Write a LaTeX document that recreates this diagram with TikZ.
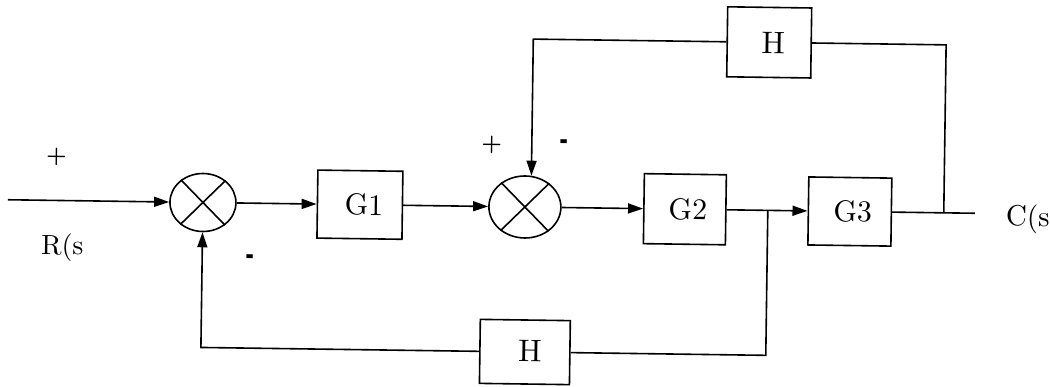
\documentclass[tikz,border=0pt]{standalone}
\usetikzlibrary{arrows.meta,shapes.geometric}
\begin{document}
\begin{tikzpicture}[x=1pt,y=-1pt,
  line width=1.6pt,
  blockbox/.style={draw,rectangle,inner sep=0pt},
  boxlabel/.style={inner sep=0pt,font=\fontsize{10}{12}\selectfont,scale=3.0},
  sumnode/.style={draw,ellipse,inner sep=0pt},
  sig/.style={inner sep=0pt,font=\fontsize{10}{12}\selectfont,scale=2.9},
  plusmark/.style={inner sep=0pt,font=\fontsize{10}{12}\bfseries\selectfont,scale=2.3},
  minusmark/.style={inner sep=0pt,font=\fontsize{10}{12}\bfseries\selectfont,xscale=2.1,yscale=4},
  flow/.style={-{Triangle[length=15pt,width=10pt]}}]
\fill[white] (0,0) rectangle (1050,387);
\useasboundingbox (0,0) rectangle (1050,387);
\begin{scope}[rotate around={-0.8:(525,200)}, transform shape]
  % summing junctions
  \node[sumnode, minimum width=66pt, minimum height=58pt] (s1) at (203,207) {};
  \node[sumnode, minimum width=72pt, minimum height=62pt] (s2) at (525,207) {};
  \draw (s1.45) -- (s1.225) (s1.135) -- (s1.315);
  \draw (s2.45) -- (s2.225) (s2.135) -- (s2.315);
  % forward blocks
  \node[blockbox, minimum width=85pt, minimum height=68pt] (g1) at (360,207) {};
  \node[blockbox, minimum width=82pt, minimum height=70pt] (g2) at (685,207) {};
  \node[blockbox, minimum width=83pt, minimum height=68pt] (g3) at (850,207) {};
  \node[boxlabel] (g1t) at (364,207) {G1};
  \node[boxlabel] (g2t) at (688,207) {G2};
  \node[boxlabel] (g3t) at (853,207) {G3};
  % feedback blocks
  \node[blockbox, minimum width=84pt, minimum height=70pt] (htop) at (767,39) {};
  \node[blockbox, minimum width=90pt, minimum height=64pt] (hbot) at (527,352) {};
  \node[boxlabel, scale=1.04] (htopt) at (771,40) {H};
  \node[boxlabel, scale=1.04] (hbott) at (532,351) {H};
  % signals
  \node[sig, scale=0.96] (rs) at (63,254) {R(s};
  \node[sig, anchor=west] (cs) at (1004,212) {C(s};
  \node[plusmark] (p1) at (56,163) {+};
  \node[minusmark] (m1) at (251,264) {-};
  \node[plusmark] (p2) at (491,145) {+};
  \node[minusmark] (m2) at (564,145) {-};
  % forward path
  \coordinate (in) at (8,207);
  \coordinate (out) at (975,207);
  \coordinate (tap1) at (944,207);
  \coordinate (tap2) at (768,207);
  \draw[flow] (in) -- (s1.west);
  \draw[flow] (s1.east) -- (g1.west);
  \draw[flow] (g1.east) -- (s2.west);
  \draw[flow] (s2.east) -- (g2.west);
  \draw[flow] (g2.east) -- (g3.west);
  \draw (g3.east) -- (out);
  % feedback paths
  \draw (tap1) |- (htop.east);
  \draw[flow] (htop.west) -| (s2.79);
  \draw (tap2) |- (hbot.east);
  \draw[flow] (hbot.west) -| (s1.south);
\end{scope}
\end{tikzpicture}
\end{document}
